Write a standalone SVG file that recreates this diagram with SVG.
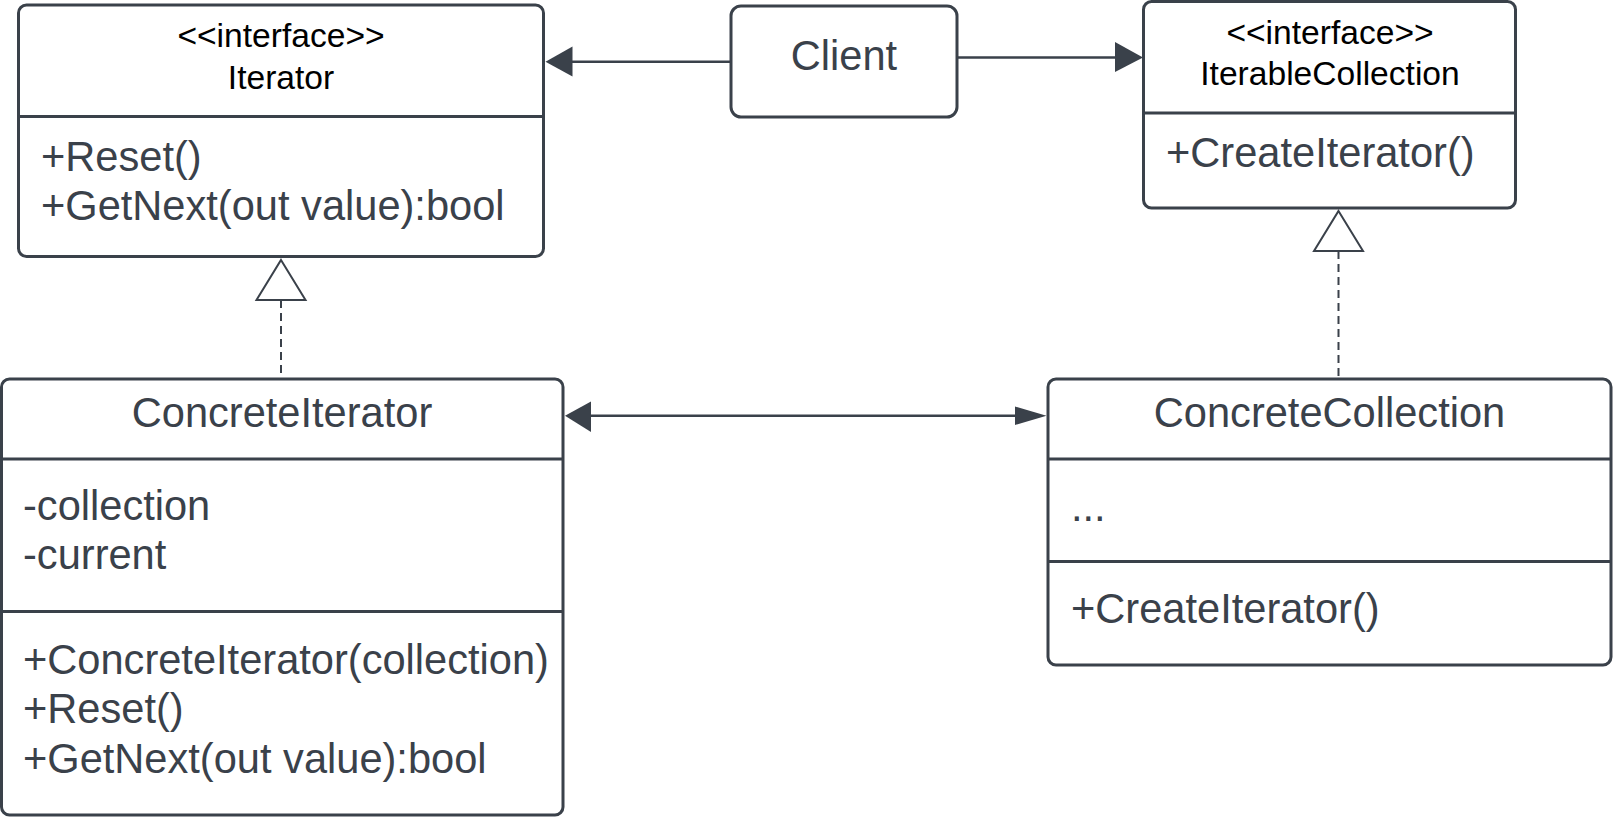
<svg xmlns="http://www.w3.org/2000/svg" width="1614" height="818" viewBox="0 0 1614 818">
<style>
.box{fill:#ffffff;stroke:#3a414a;stroke-width:3}
.div{stroke:#3a414a;stroke-width:3}
.hdr{font-family:"Liberation Sans",Arial,sans-serif;font-size:33.6px;fill:#000000;text-anchor:middle}
.ttl{font-family:"Liberation Sans",Arial,sans-serif;font-size:41.6px;fill:#3a414a;text-anchor:middle}
.mem{font-family:"Liberation Sans",Arial,sans-serif;font-size:41.6px;fill:#3a414a}
.ln{stroke:#3a414a;stroke-width:2.5;fill:none}
.dash{stroke:#3a414a;stroke-width:2;fill:none;stroke-dasharray:8 5}
.head{fill:#3a414a;stroke:none}
.tri{fill:#ffffff;stroke:#3a414a;stroke-width:2}
</style>
<rect width="1614" height="818" fill="#ffffff"/>
<g id="connectors">
  <line class="ln" x1="731" y1="61.7" x2="570" y2="61.7"/>
  <polygon class="head" points="545.5,61.7 572.5,46.5 572.5,76.5"/>
  <line class="ln" x1="957" y1="57.5" x2="1117" y2="57.5"/>
  <polygon class="head" points="1143,57.5 1115,42 1115,72"/>
  <line class="dash" x1="281" y1="300" x2="281" y2="379"/>
  <polygon class="tri" points="281,260 305.5,300 256.5,300"/>
  <line class="dash" x1="1338.5" y1="251" x2="1338.5" y2="379"/>
  <polygon class="tri" points="1338.5,211 1363,251 1314,251"/>
  <line class="ln" x1="588" y1="415.7" x2="1018" y2="415.7"/>
  <polygon class="head" points="565,415.7 591,401.5 591,432"/>
  <polygon class="head" points="1046.5,415.7 1015,406.5 1015,425"/>
</g>
<g id="iterator">
  <rect class="box" x="18.5" y="5" width="525" height="251.5" rx="8"/>
  <line class="div" x1="18.5" y1="116.5" x2="543.5" y2="116.5"/>
  <text class="hdr" x="281" y="47">&lt;&lt;interface&gt;&gt;</text>
  <text class="hdr" x="281" y="89">Iterator</text>
  <text class="mem" x="41" y="170.5">+Reset()</text>
  <text class="mem" x="41" y="219.5">+GetNext(out value):bool</text>
</g>
<g id="client">
  <rect class="box" x="731" y="6" width="226" height="111" rx="10"/>
  <text class="ttl" x="844" y="70">Client</text>
</g>
<g id="iterable-collection">
  <rect class="box" x="1143.5" y="1.5" width="372" height="206.5" rx="8"/>
  <line class="div" x1="1143.5" y1="113" x2="1515.5" y2="113"/>
  <text class="hdr" x="1330" y="44">&lt;&lt;interface&gt;&gt;</text>
  <text class="hdr" x="1330" y="85">IterableCollection</text>
  <text class="mem" x="1166" y="167">+CreateIterator()</text>
</g>
<g id="concrete-iterator">
  <rect class="box" x="1.5" y="379" width="561.5" height="436" rx="8"/>
  <line class="div" x1="1.5" y1="459" x2="563" y2="459"/>
  <line class="div" x1="1.5" y1="611.5" x2="563" y2="611.5"/>
  <text class="ttl" x="282" y="427">ConcreteIterator</text>
  <text class="mem" x="23" y="519.5">-collection</text>
  <text class="mem" x="23" y="569">-current</text>
  <text class="mem" x="23" y="673.5">+ConcreteIterator(collection)</text>
  <text class="mem" x="23" y="723">+Reset()</text>
  <text class="mem" x="23" y="772.5">+GetNext(out value):bool</text>
</g>
<g id="concrete-collection">
  <rect class="box" x="1048" y="379" width="563" height="286" rx="8"/>
  <line class="div" x1="1048" y1="459" x2="1611" y2="459"/>
  <line class="div" x1="1048" y1="561.5" x2="1611" y2="561.5"/>
  <text class="ttl" x="1329.5" y="427">ConcreteCollection</text>
  <text class="mem" x="1071" y="521">...</text>
  <text class="mem" x="1071" y="623">+CreateIterator()</text>
</g>
</svg>
